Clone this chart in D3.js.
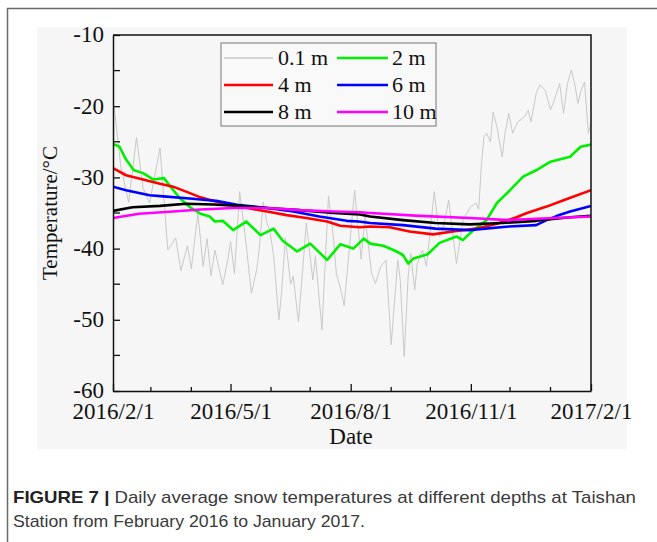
<!DOCTYPE html>
<html>
<head>
<meta charset="utf-8">
<script src="https://cdn.jsdelivr.net/npm/d3@7"></script>
<style>
  html, body { margin: 0; padding: 0; background: #ffffff; }
  svg { display: block; }
</style>
</head>
<body>
<svg id="fig" width="657" height="542"></svg>
<script>
// Daily average snow temperature (°C) at Taishan Station, by depth.
// Day numbers count from 2016-02-01.
const startDate = "2016-02-01";

const surfaceDays = [0, 1, 6, 12, 18, 23, 28, 36, 42, 48, 52, 57, 60, 65, 69, 72, 75, 78, 84, 88, 90, 93, 97,
  101, 106, 110, 112, 115, 118, 120, 123, 127, 129, 132, 136, 138, 142, 145, 148, 153, 155, 160, 165, 169,
  171, 174, 177, 179, 185, 190, 193, 198, 201, 205, 209, 213, 218, 220, 223, 226, 228, 231, 233, 237, 240,
  246, 250, 253, 257, 263, 268, 271, 274, 278, 280, 282, 284, 286, 289, 291, 294, 298, 300, 303, 306, 310,
  313, 315, 318, 320, 324, 327, 331, 335, 338, 342, 345, 348, 351, 354, 356, 358, 361, 364, 366];
const surfaceTemps = [-21.0, -20.3, -28.5, -33.5, -24.4, -31.5, -33.6, -25.9, -40.2, -38.5, -43.1, -39.6, -42.8,
  -35.0, -42.5, -38.6, -43.8, -40.2, -45.1, -41.5, -39.0, -43.5, -32.0,
  -37.9, -46.3, -43.0, -40.0, -33.5, -36.5, -37.4, -41.0, -50.0, -46.3, -38.5, -45.0, -43.9, -50.3, -43.5,
  -36.4, -44.4, -41.1, -51.4, -32.6, -38.8,
  -43.5, -45.4, -48.0, -44.0, -31.8, -41.5, -35.5, -43.5, -44.9, -42.5, -41.6, -53.5, -41.6, -44.5, -55.2,
  -43.9, -40.7, -45.8, -42.1, -40.2, -42.5,
  -32.0, -38.3, -37.0, -33.2, -42.1, -36.0, -35.0, -34.1, -33.6, -34.5, -28.5, -24.3, -23.8, -25.0, -20.8,
  -22.9, -27.1, -24.0, -21.0, -23.8, -22.2,
  -21.8, -21.5, -20.6, -22.2, -18.2, -17.0, -17.8, -20.5, -19.1, -16.8, -21.0, -16.8, -14.9, -17.3, -19.6,
  -18.0, -16.6, -23.8, -22.4];

const depth2Days = [0, 5, 10, 16, 23, 31, 39, 44, 51, 59, 67, 74, 78, 84, 92, 102, 113, 123, 130, 141, 151,
  164, 174, 184, 192, 197, 207, 216, 222, 226, 230, 241, 250, 263, 268, 273, 278, 286, 294, 304, 314, 324,
  335, 350, 358, 366];
const depth2Temps = [-25.3, -25.7, -27.5, -29.0, -29.4, -30.3, -30.1, -31.3, -32.9, -34.2, -35.1, -35.5, -36.2,
  -36.1, -37.4, -36.2, -38.1, -37.2, -38.9, -40.4, -39.3, -41.6, -39.4, -40.0, -38.6, -39.3, -39.6, -40.3,
  -40.9, -42.1, -41.4, -40.8, -39.2, -38.3, -38.8, -37.9, -37.1, -36.0, -33.6, -31.8, -29.9, -29.0,
  -27.8, -27.1, -25.7, -25.4];

const depth4Days = [0, 10, 23, 36, 46, 56, 67, 77, 87, 100, 118, 133, 148, 164, 174, 189, 197, 212, 227,
  245, 260, 278, 294, 309, 317, 332, 345, 366];
const depth4Temps = [-28.7, -29.7, -30.3, -30.9, -31.3, -32.0, -32.8, -33.3, -33.7, -34.2, -34.8, -35.3, -35.7,
  -36.2, -36.8, -37.0, -36.9, -37.0, -37.6, -38.0, -37.6, -37.2, -36.5, -35.6, -35.0, -34.1, -33.2, -31.8];

const depth6Days = [0, 10, 28, 41, 61, 79, 97, 118, 138, 158, 179, 188, 197, 222, 247, 273, 303, 324, 332,
  340, 350, 366];
const depth6Temps = [-31.3, -31.8, -32.5, -32.7, -33.0, -33.3, -33.9, -34.3, -34.8, -35.5, -36.1, -36.2, -36.4,
  -36.7, -37.2, -37.4, -36.9, -36.7, -36.0, -35.4, -34.8, -34.0];

const depth8Days = [0, 15, 36, 56, 77, 97, 118, 143, 169, 189, 197, 222, 247, 273, 298, 324, 350, 366];
const depth8Temps = [-34.7, -34.2, -34.0, -33.7, -33.8, -34.0, -34.3, -34.6, -35.0, -35.2, -35.5, -36.0, -36.4,
  -36.6, -36.4, -36.1, -35.6, -35.4];

const depth10Days = [0, 20, 46, 67, 92, 118, 143, 169, 189, 197, 235, 273, 303, 324, 366];
const depth10Temps = [-35.7, -35.1, -34.8, -34.5, -34.3, -34.3, -34.6, -34.8, -34.9, -35.0, -35.4, -35.7, -36.0,
  -35.8, -35.5];

const seriesNames = ["0.1 m", "2 m", "4 m", "6 m", "8 m", "10 m"];
const xTickLabels = ["2016/2/1", "2016/5/1", "2016/8/1", "2016/11/1", "2017/2/1"];
const yTickValues = [-60, -50, -40, -30, -20, -10];
const yMinorValues = [-55, -45, -35, -25, -15];
const captionLabel = "FIGURE 7 |";
const captionLines = [
  " Daily average snow temperatures at different depths at Taishan",
  "Station from February 2016 to January 2017."
];

// ---- styling ----
const lineColors = ["#c9c9c9", "#00f000", "#ff0000", "#0000ff", "#000000", "#ff00ff"];
const lineWidths = [1, 2.6, 2.6, 2.6, 2.6, 2.6];
const serif = "'Liberation Serif', 'Times New Roman', serif";
const sans = "'Liberation Sans', Arial, Helvetica, sans-serif";

const svg = d3.select("#fig");
const plot = { left: 113, right: 591, top: 35, bottom: 391 };

// figure frame and chart image backdrop
svg.append("rect").attr("x", 7.5).attr("y", 8.5).attr("width", 680).attr("height", 560)
  .attr("fill", "#ffffff").attr("stroke", "#6a6a6a").attr("stroke-width", 1.5);
svg.append("rect").attr("x", 37).attr("y", 27).attr("width", 590).attr("height", 422)
  .attr("fill", "#f6f6f6");

const parseDay = d3.utcParse("%Y-%m-%d");
const t0 = parseDay(startDate);
const toDate = d => d3.utcDay.offset(t0, d);
const parseLabel = d3.utcParse("%Y/%m/%d");

const x = d3.scaleUtc()
  .domain([t0, parseLabel(xTickLabels[xTickLabels.length - 1])])
  .range([plot.left, plot.right]);
const y = d3.scaleLinear().domain([-60, -10]).range([plot.bottom, plot.top]);

const seriesData = [
  [surfaceDays, surfaceTemps],
  [depth2Days, depth2Temps],
  [depth4Days, depth4Temps],
  [depth6Days, depth6Temps],
  [depth8Days, depth8Temps],
  [depth10Days, depth10Temps]
].map(([days, temps], i) => ({
  name: seriesNames[i],
  values: days.map((d, j) => ({ date: toDate(d), temp: temps[j] }))
}));

svg.append("defs").append("clipPath").attr("id", "plot-clip")
  .append("rect").attr("x", plot.left).attr("y", plot.top)
  .attr("width", plot.right - plot.left).attr("height", plot.bottom - plot.top);

const line = d3.line().x(d => x(d.date)).y(d => y(d.temp));

svg.append("g").attr("clip-path", "url(#plot-clip)")
  .selectAll("path").data(seriesData).join("path")
  .attr("d", d => line(d.values))
  .attr("fill", "none")
  .attr("stroke", (d, i) => lineColors[i])
  .attr("stroke-width", (d, i) => lineWidths[i])
  .attr("stroke-linejoin", "round");

// plot frame (top and right sides)
svg.append("path")
  .attr("d", `M${plot.left},${plot.top}H${plot.right}V${plot.bottom}`)
  .attr("fill", "none").attr("stroke", "#111").attr("stroke-width", 1.5);

// x axis: labelled quarter ticks, monthly minor ticks, all pointing inward
const xMajor = xTickLabels.map(s => parseLabel(s));
const xMinor = d3.utcMonth.range(t0, xMajor[xMajor.length - 1]).filter(
  m => !xMajor.some(t => +t === +m));

const xAxis = svg.append("g").attr("transform", `translate(0,${plot.bottom})`)
  .call(d3.axisBottom(x).tickValues(xMajor).tickSizeInner(-7).tickSizeOuter(0)
    .tickPadding(17).tickFormat((d, i) => xTickLabels[i]));
xAxis.append("g").selectAll("line").data(xMinor).join("line")
  .attr("x1", d => x(d)).attr("x2", d => x(d)).attr("y1", 0).attr("y2", -4)
  .attr("stroke", "#111").attr("stroke-width", 1.3);

const yAxis = svg.append("g").attr("transform", `translate(${plot.left},0)`)
  .call(d3.axisLeft(y).tickValues(yTickValues).tickSizeInner(-7).tickSizeOuter(0)
    .tickPadding(9).tickFormat(d => String(d)));
yAxis.append("g").selectAll("line").data(yMinorValues).join("line")
  .attr("x1", 0).attr("x2", 7).attr("y1", d => y(d)).attr("y2", d => y(d))
  .attr("stroke", "#111").attr("stroke-width", 1.3);

[xAxis, yAxis].forEach(g => {
  g.select(".domain").attr("stroke", "#111").attr("stroke-width", 1.5);
  g.selectAll(".tick line").attr("stroke", "#111").attr("stroke-width", 1.3);
  g.selectAll(".tick text").attr("font-family", serif).attr("font-size", 23).attr("fill", "#111");
});
xAxis.selectAll(".tick text").attr("dy", "0.47em");
yAxis.selectAll(".tick text").attr("dy", "0.3em");

// axis titles
svg.append("text").attr("x", (plot.left + plot.right) / 2 - 1).attr("y", 444)
  .attr("text-anchor", "middle").attr("font-family", serif).attr("font-size", 23)
  .attr("fill", "#111").text("Date");
svg.append("text")
  .attr("transform", `translate(57,${(plot.top + plot.bottom) / 2}) rotate(-90)`)
  .attr("text-anchor", "middle").attr("font-family", serif).attr("font-size", 21)
  .attr("fill", "#111").text("Temperature/°C");

// legend: two columns, three rows
const legend = svg.append("g");
legend.append("rect").attr("x", 221).attr("y", 43).attr("width", 215).attr("height", 83)
  .attr("fill", "#f9f9f9").attr("stroke", "#8a8a8a").attr("stroke-width", 1.2);
const legendCols = [{ x1: 224, x2: 273, tx: 278 }, { x1: 337, x2: 388, tx: 392 }];
const legendRows = [58, 85, 112];
seriesData.forEach((s, i) => {
  const c = legendCols[i % 2], r = legendRows[Math.floor(i / 2)];
  legend.append("line").attr("x1", c.x1).attr("x2", c.x2).attr("y1", r).attr("y2", r)
    .attr("stroke", lineColors[i]).attr("stroke-width", lineWidths[i] + (i === 0 ? 0.3 : 0));
  legend.append("text").attr("x", c.tx).attr("y", r).attr("dy", "0.34em")
    .attr("font-family", serif).attr("font-size", 22).attr("fill", "#111").text(s.name);
});

// caption
const cap1 = svg.append("text").attr("x", 13).attr("y", 503)
  .attr("font-family", sans).attr("font-size", 17).attr("fill", "#3a3a3a");
cap1.append("tspan").attr("font-weight", "bold").attr("fill", "#222").text(captionLabel);
cap1.append("tspan").text(captionLines[0]);
const cap2 = svg.append("text").attr("x", 13).attr("y", 527)
  .attr("font-family", sans).attr("font-size", 17).attr("fill", "#3a3a3a").text(captionLines[1]);

// fit caption lines to their column width
[[cap1, 623], [cap2, 352]].forEach(([t, w]) => {
  t.attr("textLength", w).attr("lengthAdjust", "spacingAndGlyphs");
});
</script>
</body>
</html>
